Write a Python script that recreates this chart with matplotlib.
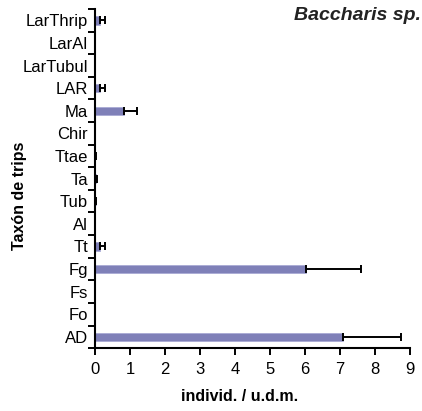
import numpy as np
import matplotlib
matplotlib.use("Agg")
from matplotlib import pyplot as plt

plt.rcParams["font.family"] = ["Liberation Sans", "DejaVu Sans"]

# taxa listed bottom to top, as drawn
taxa = ["AD", "Fo", "Fs", "Fg", "Tt", "Al", "Tub", "Ta", "Ttae", "Chir",
        "Ma", "LAR", "LarTubul", "LarAl", "LarThrip"]
means = [7.08, 0.0, 0.0, 6.03, 0.15, 0.0, 0.02, 0.03, 0.01, 0.0,
         0.83, 0.15, 0.0, 0.0, 0.15]
errors = [1.66, 0.0, 0.0, 1.57, 0.15, 0.0, 0.02, 0.03, 0.01, 0.0,
          0.36, 0.15, 0.0, 0.0, 0.15]

fig = plt.figure(figsize=(4.22, 4.11), dpi=100)
ax = fig.add_axes([0.225, 0.153, 0.747, 0.825])

y = np.arange(len(taxa))
ax.barh(y, means, height=0.37, color="#7f80b8", edgecolor="#a9aad4",
        linewidth=0.6, zorder=2)
ax.errorbar(means, y, xerr=[np.zeros(len(errors)), errors], fmt="none",
            ecolor="black", elinewidth=1.4, capsize=3, capthick=1.4, zorder=3)

ax.set_xlim(0, 9)
ax.set_ylim(-0.5, len(taxa) - 0.5)
ax.set_xticks(range(10))
ax.set_yticks(y)
ax.set_yticklabels(taxa)
ax.set_yticks(np.arange(-0.5, len(taxa), 1.0), minor=True)
ax.tick_params(axis="y", which="major", length=0, labelsize=12, pad=5)
ax.tick_params(axis="y", which="minor", length=5, width=1.4, direction="out")
ax.tick_params(axis="x", length=5, width=1.4, labelsize=12, pad=5)

for side in ["top", "right"]:
    ax.spines[side].set_visible(False)
for side in ["left", "bottom"]:
    ax.spines[side].set_linewidth(1.5)

ax.set_xlabel("individ. / u.d.m.", fontsize=11.5, fontweight="bold")
ax.xaxis.set_label_coords(0.46, -0.12)
ax.set_ylabel("Taxón de trips", fontsize=11.5, fontweight="bold")
ax.yaxis.set_label_coords(-0.215, 0.45)

fig.text(0.998, 0.962, "Baccharis sp.", ha="right", va="center",
         fontsize=14, fontweight="bold", style="italic", color="#222222")

fig.savefig("out.png", dpi=100)
